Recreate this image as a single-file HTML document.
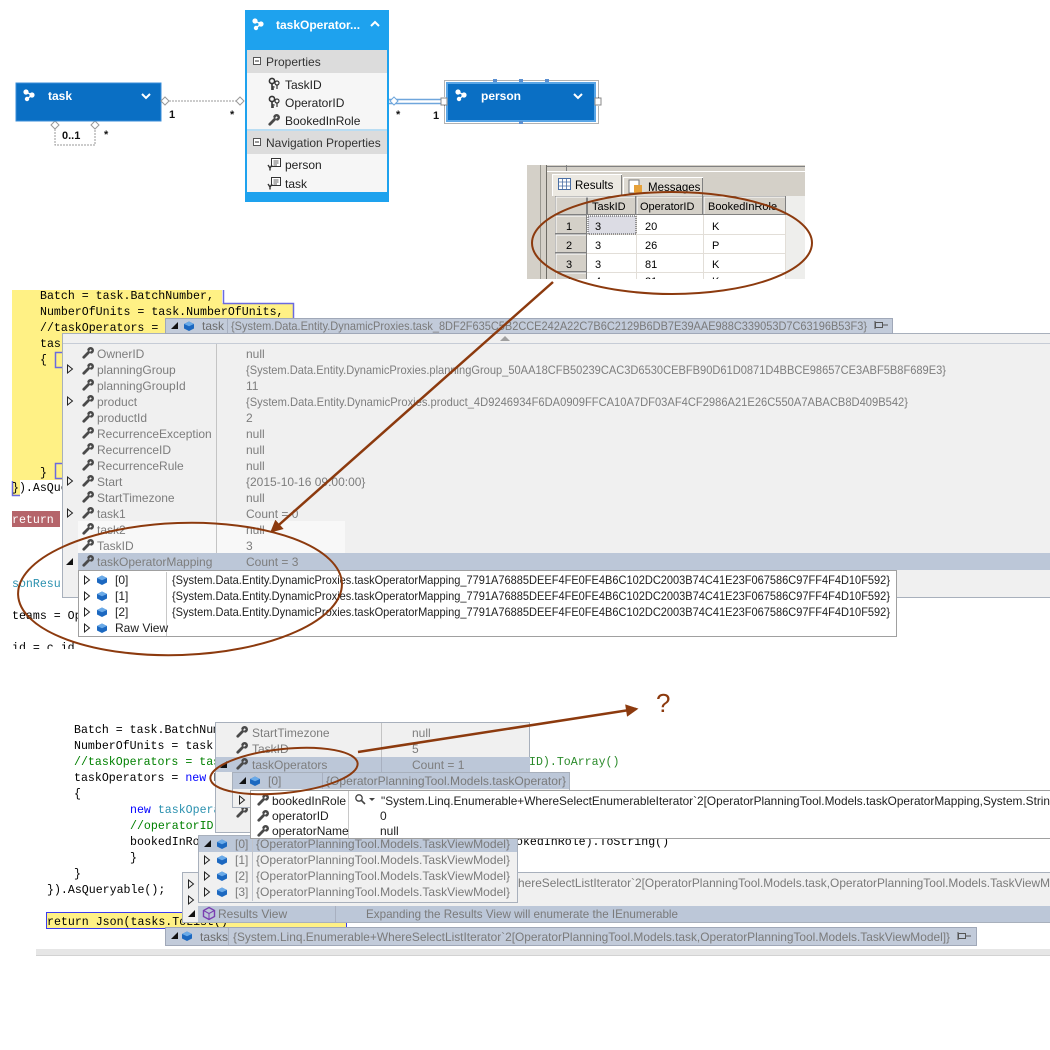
<!DOCTYPE html>
<html><head><meta charset="utf-8"><style>
html,body{margin:0;padding:0;background:#fff;}
svg{display:block;}
.mono{font-family:"Liberation Mono",monospace;font-size:11.6px;}
.ui{font-family:"Liberation Sans",sans-serif;font-size:12px;}
</style></head><body>
<svg width="1050" height="1050" viewBox="0 0 1050 1050" xmlns="http://www.w3.org/2000/svg" font-family="Liberation Sans, sans-serif">
<defs>
<marker id="ah" viewBox="0 0 10 10" refX="8" refY="5" markerWidth="6" markerHeight="5" orient="auto" markerUnits="strokeWidth"><path d="M0,0 L10,5 L0,10Z" fill="#8c3a0e"/></marker>
<symbol id="wr" viewBox="0 0 12 12"><path d="M1.8,10.2 L6.6,5.4" stroke="#4a4a4a" stroke-width="2.8" stroke-linecap="round"/><path d="M5.2,3.2 A3.4,3.4 0 1 1 8.8,6.8 L7.6,5.2 L9.8,3.4 L8.6,2.2 L6.8,4.4Z" fill="#4a4a4a"/></symbol>
<symbol id="cube" viewBox="0 0 12 12"><path d="M1,4 L6,1.5 L11,4 L11,8.5 L6,11 L1,8.5Z" fill="#1c68c0"/><path d="M1,4 L6,1.5 L11,4 L6,6.2Z" fill="#6aaae8"/></symbol>
<symbol id="key" viewBox="0 0 12 14"><circle cx="4" cy="4" r="2.6" fill="none" stroke="#333" stroke-width="1.6"/><path d="M4,6.5 V13 M4,10 H6.5 M4,12 H6" stroke="#333" stroke-width="1.6"/><circle cx="9" cy="6" r="2" fill="none" stroke="#333" stroke-width="1.2"/><path d="M9,8 V12" stroke="#333" stroke-width="1.2"/></symbol>
<symbol id="nav" viewBox="0 0 14 14"><rect x="4.5" y="1.5" width="9" height="8" fill="#fff" stroke="#333"/><path d="M6.5,4 H11.5 M6.5,6 H11.5 M6.5,8 H10" stroke="#333" stroke-width="0.8"/><path d="M1,8 L3,11 L5,8 M3,11 V13.5" stroke="#333" stroke-width="1.4" fill="none"/></symbol>
<symbol id="ent" viewBox="0 0 14 14"><circle cx="4" cy="4" r="2.6" fill="#fff"/><circle cx="10" cy="7" r="2.6" fill="#fff"/><circle cx="5" cy="11" r="2.2" fill="#fff"/><path d="M4,4 L10,7 L5,11" stroke="#fff" stroke-width="1.4" fill="none"/></symbol>
<clipPath id="topclip"><rect x="0" y="0" width="1050" height="649"/></clipPath>
<clipPath id="gridclip"><rect x="527" y="165" width="278" height="114"/></clipPath>
</defs>

<rect width="1050" height="1050" fill="#fff"/>

<!-- ================= TOP DIAGRAM ================= -->
<path d="M55,129 V145 H95 V129" fill="none" stroke="#999" stroke-dasharray="2,1"/>
<path d="M55,121 L59,125 L55,129 L51,125Z" fill="#fff" stroke="#999"/>
<path d="M95,121 L99,125 L95,129 L91,125Z" fill="#fff" stroke="#999"/>
<text x="62" y="139" font-size="11" font-weight="bold" fill="#111">0..1</text>
<text x="104" y="138" font-size="11" font-weight="bold" fill="#111">*</text>

<rect x="16" y="83" width="145" height="38" fill="#0a6fc4" stroke="#3a8ed8"/>
<use href="#ent" x="22" y="88" width="14" height="14"/>
<text x="48" y="100" font-size="12" font-weight="bold" fill="#fff">task</text>
<polyline points="142,94 146,98 150,94" fill="none" stroke="#fff" stroke-width="2"/>

<line x1="169" y1="101" x2="236" y2="101" stroke="#999" stroke-dasharray="2,1"/>
<path d="M161,101 L165,97 L169,101 L165,105Z" fill="#fff" stroke="#999"/>
<path d="M236,101 L240,97 L244,101 L240,105Z" fill="#fff" stroke="#999"/>
<text x="169" y="118" font-size="11" font-weight="bold" fill="#111">1</text>
<text x="230" y="118" font-size="11" font-weight="bold" fill="#111">*</text>

<rect x="245" y="10" width="144" height="192" fill="#1ea2ee"/>
<rect x="247" y="50" width="140" height="142" fill="#f6f6f6"/>
<rect x="247" y="50" width="140" height="23" fill="#dcdcdc"/>
<rect x="247" y="131" width="140" height="23" fill="#dcdcdc"/>
<line x1="247" y1="130" x2="387" y2="130" stroke="#7cc4f0"/>
<use href="#ent" x="251" y="17" width="14" height="14"/>
<text x="276" y="29" font-size="12" font-weight="bold" fill="#fff">taskOperator...</text>
<polyline points="371,26 375,22 379,26" fill="none" stroke="#fff" stroke-width="2"/>
<rect x="253.5" y="57.5" width="7" height="7" fill="#fff" stroke="#555"/><line x1="255" y1="61" x2="259" y2="61" stroke="#333"/>
<text x="266" y="66" font-size="12" fill="#333">Properties</text>
<use href="#key" x="268" y="77" width="12" height="14"/><text x="285" y="89" font-size="12" fill="#222">TaskID</text>
<use href="#key" x="268" y="95" width="12" height="14"/><text x="285" y="107" font-size="12" fill="#222">OperatorID</text>
<use href="#wr" x="268" y="114" width="12" height="12"/><text x="285" y="125" font-size="12" fill="#222">BookedInRole</text>
<rect x="253.5" y="138.5" width="7" height="7" fill="#fff" stroke="#555"/><line x1="255" y1="142" x2="259" y2="142" stroke="#333"/>
<text x="266" y="147" font-size="12" fill="#333">Navigation Properties</text>
<use href="#nav" x="267" y="157" width="14" height="14"/><text x="285" y="169" font-size="12" fill="#222">person</text>
<use href="#nav" x="267" y="176" width="14" height="14"/><text x="285" y="188" font-size="12" fill="#222">task</text>

<line x1="389" y1="99.5" x2="443" y2="99.5" stroke="#6fa6dc" stroke-width="1.5"/>
<line x1="389" y1="103.5" x2="443" y2="103.5" stroke="#6fa6dc" stroke-width="1.5"/>
<path d="M390,101 L394,97 L398,101 L394,105Z" fill="#fff" stroke="#6fa6dc"/>
<text x="396" y="118" font-size="11" font-weight="bold" fill="#111">*</text>
<text x="433" y="119" font-size="11" font-weight="bold" fill="#111">1</text>

<rect x="444.5" y="80.5" width="154" height="43" fill="none" stroke="#666" stroke-dasharray="1,1"/>
<rect x="447" y="83" width="148" height="38" fill="#0a6fc4" stroke="#5aa6e6" stroke-width="2"/>
<use href="#ent" x="454" y="88" width="14" height="14"/>
<text x="481" y="100" font-size="12" font-weight="bold" fill="#fff">person</text>
<polyline points="574,94 578,98 582,94" fill="none" stroke="#fff" stroke-width="2"/>
<rect x="441" y="98" width="6" height="7" fill="#fff" stroke="#888"/>
<rect x="595" y="98" width="6" height="7" fill="#fff" stroke="#888"/>
<rect x="493" y="79" width="4" height="3" fill="#5a8fd0"/><rect x="519" y="79" width="4" height="3" fill="#5a8fd0"/><rect x="545" y="79" width="4" height="3" fill="#5a8fd0"/><rect x="519" y="121" width="4" height="3" fill="#5a8fd0"/>

<!-- ================= RESULTS GRID ================= -->
<g clip-path="url(#gridclip)">
<rect x="527" y="165" width="278" height="114" fill="#d4d0c8"/>
<line x1="540.5" y1="165" x2="540.5" y2="279" stroke="#9a9890"/>
<line x1="546.5" y1="165" x2="546.5" y2="279" stroke="#6e6c66"/>
<line x1="547" y1="166.5" x2="805" y2="166.5" stroke="#808080"/>
<line x1="566.5" y1="165" x2="566.5" y2="171" stroke="#808080"/>
<line x1="547" y1="171.5" x2="805" y2="171.5" stroke="#ffffff"/>
<path d="M552.5,196 V174.5 H621.5 V196" fill="#ece9e2" stroke="#fff"/>
<line x1="621.5" y1="175" x2="621.5" y2="196" stroke="#808080"/>
<path d="M623.5,196 V177.5 H702.5 V196" fill="#dedad2" stroke="#fff"/>
<line x1="702.5" y1="178" x2="702.5" y2="196" stroke="#808080"/>
<rect x="558.5" y="178.5" width="12" height="11" fill="#fff" stroke="#4a6fa5"/><path d="M558.5,182 H570.5 M558.5,186 H570.5 M562.5,178.5 V189.5 M566.5,178.5 V189.5" stroke="#4a6fa5" stroke-width="0.8" fill="none"/>
<text x="575" y="189" font-size="11.5" fill="#000">Results</text>
<rect x="629" y="180" width="10" height="13" fill="#fff" stroke="#777"/><rect x="634" y="185" width="8" height="8" fill="#e6a13a"/>
<text x="648" y="191" font-size="11.5" fill="#000">Messages</text>
<rect x="555" y="196" width="250" height="83" fill="#fff"/>
<rect x="786" y="196" width="19" height="83" fill="#eeeeec"/>
<g stroke="#e2ded8">
<line x1="587" y1="234.5" x2="786" y2="234.5"/><line x1="587" y1="253.5" x2="786" y2="253.5"/><line x1="587" y1="272.5" x2="786" y2="272.5"/>
<line x1="636.5" y1="215" x2="636.5" y2="279"/><line x1="703.5" y1="215" x2="703.5" y2="279"/><line x1="785.5" y1="215" x2="785.5" y2="279"/>
</g>
<rect x="588" y="216" width="48" height="18" fill="#dcdce4" stroke="#444" stroke-dasharray="1,1"/>
<g fill="#d4d0c8" stroke="#808080">
<rect x="555.5" y="196.5" width="31" height="18"/>
<rect x="587.5" y="196.5" width="48" height="18"/>
<rect x="636.5" y="196.5" width="66" height="18"/>
<rect x="703.5" y="196.5" width="82" height="18"/>
<rect x="555.5" y="215.5" width="31" height="18"/>
<rect x="555.5" y="234.5" width="31" height="18"/>
<rect x="555.5" y="253.5" width="31" height="18"/>
<rect x="555.5" y="272.5" width="31" height="18"/>
</g>
<path d="M556,214 V197 H635 M637,214 V197 H702 M704,214 V197 H785 M556,233 V216 H586 M556,252 V235 H586 M556,271 V254 H586 M556,279 V273 H586" fill="none" stroke="#fff"/>
<g font-size="11" fill="#000">
<text x="592" y="210">TaskID</text><text x="640" y="210">OperatorID</text><text x="708" y="210">BookedInRole</text>
<text x="566" y="230">1</text><text x="566" y="249">2</text><text x="566" y="268">3</text>
<text x="595" y="230">3</text><text x="645" y="230">20</text><text x="712" y="230">K</text>
<text x="595" y="249">3</text><text x="645" y="249">26</text><text x="712" y="249">P</text>
<text x="595" y="268">3</text><text x="645" y="268">81</text><text x="712" y="268">K</text>
<text x="566" y="285">4</text><text x="595" y="285">4</text><text x="645" y="285">21</text><text x="712" y="285">K</text>
</g>
</g>

<!-- ================= TOP CODE ================= -->
<g clip-path="url(#topclip)">
<path d="M12,290 H222 V303 H293 V480 H12Z" fill="#fff185"/>
<path d="M223.5,290 V303.5 H293.5 V330" fill="none" stroke="#6a6ae0" stroke-width="1.5"/>
<rect x="12" y="480" width="8" height="15" fill="#fff185"/>
<path d="M12.5,481 V495.5 H20" fill="none" stroke="#6a6ae0" stroke-width="1.5"/>
<rect x="55.5" y="352.5" width="8" height="15" fill="none" stroke="#6a6ae0" stroke-width="1.5"/>
<rect x="55.5" y="463.5" width="8" height="15" fill="none" stroke="#6a6ae0" stroke-width="1.5"/>
<rect x="12" y="511" width="48" height="16" fill="#b5646a"/>
<g class="mono" fill="#000">
<text x="40" y="299">Batch = task.BatchNumber,</text>
<text x="40" y="315">NumberOfUnits = task.NumberOfUnits,</text>
<text x="40" y="331">//taskOperators = task.taskOperatorMapping</text>
<text x="40" y="347">taskOperators = new List</text>
<text x="40" y="363">{</text>
<text x="40" y="476">}</text>
<text x="12" y="491">}).AsQueryable();</text>
<text x="12" y="523" fill="#fff">return</text>
<text x="12" y="587" fill="#2b91af">sonResult</text>
<text x="12" y="619">teams = OperatorPlanning</text>
<text x="12" y="651">id = c.id</text>
</g>
</g>

<!-- ================= POPUP 1 (task) ================= -->
<rect x="62.5" y="333.5" width="990" height="264" fill="#f0f0f0" stroke="#a8b0bc"/>
<line x1="63" y1="343.5" x2="1050" y2="343.5" stroke="#c6ccd6"/>
<path d="M500,341 L505,336 L510,341Z" fill="#a0a0a0"/>
<rect x="78" y="521" width="267" height="32" fill="#f8f8f8"/>
<line x1="216.5" y1="344" x2="216.5" y2="553" stroke="#c4c4c4"/>
<rect x="78" y="553" width="972" height="17" fill="#bcc7d8"/>
<g class="ui" fill="#7d7d7d">
<use href="#wr" x="82" y="347" width="12" height="12"/><text x="97" y="358">OwnerID</text><text x="246" y="358">null</text>
<use href="#wr" x="82" y="363" width="12" height="12"/><text x="97" y="374">planningGroup</text><text x="246" y="374" textLength="700" lengthAdjust="spacingAndGlyphs">{System.Data.Entity.DynamicProxies.planningGroup_50AA18CFB50239CAC3D6530CEBFB90D61D0871D4BBCE98657CE3ABF5B8F689E3}</text>
<use href="#wr" x="82" y="379" width="12" height="12"/><text x="97" y="390">planningGroupId</text><text x="246" y="390">11</text>
<use href="#wr" x="82" y="395" width="12" height="12"/><text x="97" y="406">product</text><text x="246" y="406" textLength="662" lengthAdjust="spacingAndGlyphs">{System.Data.Entity.DynamicProxies.product_4D9246934F6DA0909FFCA10A7DF03AF4CF2986A21E26C550A7ABACB8D409B542}</text>
<use href="#wr" x="82" y="411" width="12" height="12"/><text x="97" y="422">productId</text><text x="246" y="422">2</text>
<use href="#wr" x="82" y="427" width="12" height="12"/><text x="97" y="438">RecurrenceException</text><text x="246" y="438">null</text>
<use href="#wr" x="82" y="443" width="12" height="12"/><text x="97" y="454">RecurrenceID</text><text x="246" y="454">null</text>
<use href="#wr" x="82" y="459" width="12" height="12"/><text x="97" y="470">RecurrenceRule</text><text x="246" y="470">null</text>
<use href="#wr" x="82" y="475" width="12" height="12"/><text x="97" y="486">Start</text><text x="246" y="486">{2015-10-16 09:00:00}</text>
<use href="#wr" x="82" y="491" width="12" height="12"/><text x="97" y="502">StartTimezone</text><text x="246" y="502">null</text>
<use href="#wr" x="82" y="507" width="12" height="12"/><text x="97" y="518">task1</text><text x="246" y="518">Count = 0</text>
<use href="#wr" x="82" y="523" width="12" height="12"/><text x="97" y="534">task2</text><text x="246" y="534">null</text>
<use href="#wr" x="82" y="539" width="12" height="12"/><text x="97" y="550">TaskID</text><text x="246" y="550">3</text>
<use href="#wr" x="82" y="555" width="12" height="12"/><text x="97" y="566">taskOperatorMapping</text><text x="246" y="566">Count = 3</text>
</g>
<g fill="none" stroke="#222">
<path d="M67.5,365 L72.5,369 L67.5,373Z"/><path d="M67.5,397 L72.5,401 L67.5,405Z"/><path d="M67.5,477 L72.5,481 L67.5,485Z"/><path d="M67.5,509 L72.5,513 L67.5,517Z"/>
</g>
<path d="M73,558 L73,565 L66,565Z" fill="#111"/>

<rect x="165.5" y="318.5" width="727" height="15" fill="#c2cbda" stroke="#a0a8b8"/>
<path d="M178,322 L178,329 L171,329Z" fill="#111"/>
<use href="#cube" x="183" y="320" width="12" height="12"/>
<text x="202" y="330" class="ui" fill="#6c6c6c">task</text>
<line x1="227.5" y1="319" x2="227.5" y2="333" stroke="#a8b0c0"/>
<text x="231" y="330" class="ui" fill="#7a7a7a" textLength="636" lengthAdjust="spacingAndGlyphs">{System.Data.Entity.DynamicProxies.task_8DF2F635C5B2CCE242A22C7B6C2129B6DB7E39AAE988C339053D7C63196B53F3}</text>
<rect x="875.5" y="322.5" width="7" height="5" fill="none" stroke="#555"/><path d="M882,325 H888 M875,321 V329" stroke="#555" fill="none"/>

<rect x="78.5" y="570.5" width="818" height="66" fill="#fff" stroke="#a0a0a0"/>
<line x1="166.5" y1="572" x2="166.5" y2="636" stroke="#c8c8c8"/>
<g class="ui" fill="#1e1e1e">
<path d="M84.5,576 L89.5,580 L84.5,584Z" fill="none" stroke="#222"/><use href="#cube" x="96" y="574" width="12" height="12"/><text x="115" y="584">[0]</text><text x="172" y="584" textLength="718" lengthAdjust="spacingAndGlyphs">{System.Data.Entity.DynamicProxies.taskOperatorMapping_7791A76885DEEF4FE0FE4B6C102DC2003B74C41E23F067586C97FF4F4D10F592}</text>
<path d="M84.5,592 L89.5,596 L84.5,600Z" fill="none" stroke="#222"/><use href="#cube" x="96" y="590" width="12" height="12"/><text x="115" y="600">[1]</text><text x="172" y="600" textLength="718" lengthAdjust="spacingAndGlyphs">{System.Data.Entity.DynamicProxies.taskOperatorMapping_7791A76885DEEF4FE0FE4B6C102DC2003B74C41E23F067586C97FF4F4D10F592}</text>
<path d="M84.5,608 L89.5,612 L84.5,616Z" fill="none" stroke="#222"/><use href="#cube" x="96" y="606" width="12" height="12"/><text x="115" y="616">[2]</text><text x="172" y="616" textLength="718" lengthAdjust="spacingAndGlyphs">{System.Data.Entity.DynamicProxies.taskOperatorMapping_7791A76885DEEF4FE0FE4B6C102DC2003B74C41E23F067586C97FF4F4D10F592}</text>
<path d="M84.5,624 L89.5,628 L84.5,632Z" fill="none" stroke="#222"/><use href="#cube" x="96" y="622" width="12" height="12"/><text x="115" y="632">Raw View</text>
</g>

<!-- ================= LOWER CODE ================= -->
<rect x="46.5" y="912.5" width="300" height="16" fill="#fff185" stroke="#3a3af0"/>
<g class="mono" fill="#000">
<text x="74" y="733">Batch = task.BatchNumber,</text>
<text x="74" y="749">NumberOfUnits = task.NumberOfUnits,</text>
<text x="74" y="765" fill="#008000">//taskOperators = task.taskOperatorMapping</text>
<text x="529" y="765" fill="#2a8a2a">ID).ToArray()</text>
<text x="74" y="781">taskOperators = <tspan fill="#0000ff">new</tspan> List</text>
<text x="74" y="797">{</text>
<text x="130" y="813"><tspan fill="#0000ff">new</tspan> <tspan fill="#2b91af">taskOperator</tspan></text>
<text x="130" y="829" fill="#008000">//operatorID = o.OperatorID</text>
<text x="130" y="845">bookedInRole = </text>
<text x="516" y="845">okedInRole).ToString()</text>
<text x="130" y="861">}</text>
<text x="74" y="877">}</text>
<text x="47" y="893">}).AsQueryable();</text>
<text x="47" y="925">return Json(tasks.ToList()</text>
</g>
<rect x="36" y="949" width="1014" height="6" fill="#e6e6e6"/>
<line x1="36" y1="955.5" x2="1050" y2="955.5" stroke="#d2d2d2"/>

<!-- Popup A -->
<rect x="215.5" y="722.5" width="314" height="110" fill="#f0f0f0" stroke="#a8b0bc"/>
<line x1="381.5" y1="723" x2="381.5" y2="757" stroke="#c4c4c4"/>
<rect x="216" y="757" width="314" height="15" fill="#bcc7d8"/>
<line x1="381.5" y1="757" x2="381.5" y2="772" stroke="#a8b0c0"/>
<g class="ui" fill="#7d7d7d">
<use href="#wr" x="236" y="726" width="12" height="12"/><text x="252" y="737">StartTimezone</text><text x="412" y="737">null</text>
<use href="#wr" x="236" y="742" width="12" height="12"/><text x="252" y="753">TaskID</text><text x="412" y="753">5</text>
<use href="#wr" x="236" y="758" width="12" height="12"/><text x="252" y="769">taskOperators</text><text x="412" y="769">Count = 1</text>
<use href="#wr" x="236" y="806" width="12" height="12"/>
</g>
<path d="M227,761 L227,768 L220,768Z" fill="#111"/>

<!-- Popup B -->
<rect x="232.5" y="772.5" width="337" height="35" fill="#f0f0f0" stroke="#a8b0bc"/>
<rect x="233" y="773" width="336" height="16" fill="#bcc7d8"/>
<line x1="322.5" y1="773" x2="322.5" y2="789" stroke="#a8b0c0"/>
<path d="M246,777 L246,784 L239,784Z" fill="#111"/>
<use href="#cube" x="249" y="775" width="12" height="12"/>
<text x="268" y="785" class="ui" fill="#7a7a7a">[0]</text>
<text x="326" y="785" class="ui" fill="#7a7a7a" textLength="240" lengthAdjust="spacingAndGlyphs">{OperatorPlanningTool.Models.taskOperator}</text>
<path d="M239.5,796 L244.5,800 L239.5,804Z" fill="none" stroke="#222"/>

<!-- Popup E -->
<rect x="182.5" y="872.5" width="870" height="50" fill="#f0f0f0" stroke="#a8b0bc"/>
<rect x="198" y="906" width="852" height="16" fill="#bcc7d8"/>
<line x1="335.5" y1="906" x2="335.5" y2="922" stroke="#a8b0c0"/>
<path d="M188.5,880 L193.5,884 L188.5,888Z" fill="none" stroke="#222"/>
<path d="M188.5,896 L193.5,900 L188.5,904Z" fill="none" stroke="#222"/>
<path d="M195,910 L195,917 L188,917Z" fill="#111"/>
<path d="M209,907.5 L214.5,910.5 L214.5,916.5 L209,919.5 L203.5,916.5 L203.5,910.5Z" fill="none" stroke="#7a3fb0" stroke-width="1.4"/><path d="M203.5,910.5 L209,913.5 L214.5,910.5 M209,913.5 V919.5" fill="none" stroke="#7a3fb0" stroke-width="1"/>
<g class="ui" fill="#7a7a7a">
<text x="518" y="887" textLength="532" lengthAdjust="spacingAndGlyphs">hereSelectListIterator`2[OperatorPlanningTool.Models.task,OperatorPlanningTool.Models.TaskViewM</text>
<text x="218" y="918">Results View</text>
<text x="366" y="918" textLength="312" lengthAdjust="spacingAndGlyphs">Expanding the Results View will enumerate the IEnumerable</text>
</g>

<!-- Popup D -->
<rect x="198.5" y="835.5" width="319" height="67" fill="#f0f0f0" stroke="#a8b0bc"/>
<rect x="199" y="836" width="318" height="16" fill="#bcc7d8"/>
<line x1="252.5" y1="836" x2="252.5" y2="901" stroke="#c0c4cc"/>
<path d="M211,840 L211,847 L204,847Z" fill="#111"/>
<path d="M204.5,856 L209.5,860 L204.5,864Z" fill="none" stroke="#222"/>
<path d="M204.5,872 L209.5,876 L204.5,880Z" fill="none" stroke="#222"/>
<path d="M204.5,888 L209.5,892 L204.5,896Z" fill="none" stroke="#222"/>
<use href="#cube" x="216" y="838" width="12" height="12"/>
<use href="#cube" x="216" y="854" width="12" height="12"/>
<use href="#cube" x="216" y="870" width="12" height="12"/>
<use href="#cube" x="216" y="886" width="12" height="12"/>
<g class="ui" fill="#7a7a7a">
<text x="235" y="848">[0]</text><text x="256" y="848" textLength="254" lengthAdjust="spacingAndGlyphs">{OperatorPlanningTool.Models.TaskViewModel}</text>
<text x="235" y="864">[1]</text><text x="256" y="864" textLength="254" lengthAdjust="spacingAndGlyphs">{OperatorPlanningTool.Models.TaskViewModel}</text>
<text x="235" y="880">[2]</text><text x="256" y="880" textLength="254" lengthAdjust="spacingAndGlyphs">{OperatorPlanningTool.Models.TaskViewModel}</text>
<text x="235" y="896">[3]</text><text x="256" y="896" textLength="254" lengthAdjust="spacingAndGlyphs">{OperatorPlanningTool.Models.TaskViewModel}</text>
</g>

<!-- Popup C (on top of D) -->
<rect x="250.5" y="790.5" width="801" height="48" fill="#fff" stroke="#a0a0a0"/>
<line x1="348.5" y1="791" x2="348.5" y2="838" stroke="#c8c8c8"/>
<g class="ui" fill="#1e1e1e">
<use href="#wr" x="257" y="794" width="12" height="12"/><text x="272" y="805">bookedInRole</text>
<circle cx="359" cy="798" r="3.2" fill="none" stroke="#444" stroke-width="1.3"/><line x1="361.5" y1="800.5" x2="365" y2="804" stroke="#444" stroke-width="1.6"/>
<path d="M369,798 L375,798 L372,801Z" fill="#444"/>
<text x="381" y="805" textLength="669" lengthAdjust="spacingAndGlyphs">"System.Linq.Enumerable+WhereSelectEnumerableIterator`2[OperatorPlanningTool.Models.taskOperatorMapping,System.Strin</text>
<use href="#wr" x="257" y="810" width="12" height="12"/><text x="272" y="820">operatorID</text><text x="380" y="820">0</text>
<use href="#wr" x="257" y="825" width="12" height="12"/><text x="272" y="835">operatorName</text><text x="380" y="835">null</text>
</g>

<!-- Popup F -->
<rect x="165.5" y="927.5" width="811" height="18" fill="#c2cbda" stroke="#a0a8b8"/>
<path d="M178,932 L178,939 L171,939Z" fill="#111"/>
<use href="#cube" x="181" y="930" width="12" height="12"/>
<text x="200" y="941" class="ui" fill="#6c6c6c">tasks</text>
<line x1="228.5" y1="928" x2="228.5" y2="945" stroke="#a8b0c0"/>
<text x="233" y="941" class="ui" fill="#7a7a7a" textLength="717" lengthAdjust="spacingAndGlyphs">{System.Linq.Enumerable+WhereSelectListIterator`2[OperatorPlanningTool.Models.task,OperatorPlanningTool.Models.TaskViewModel]}</text>
<rect x="958.5" y="933.5" width="7" height="5" fill="none" stroke="#555"/><path d="M965,936 H971 M958,932 V940" stroke="#555" fill="none"/>

<!-- ================= ANNOTATIONS ================= -->
<g fill="none" stroke="#8c3a0e" stroke-width="2">
<ellipse cx="672" cy="243" rx="140" ry="51"/>
<ellipse cx="180" cy="589" rx="162" ry="66" transform="rotate(-2 180 589)"/>
<ellipse cx="284" cy="771" rx="74" ry="22" transform="rotate(-6 284 771)"/>
</g>
<line x1="553" y1="282" x2="272" y2="531" stroke="#8c3a0e" stroke-width="2.5" marker-end="url(#ah)"/>
<line x1="358" y1="752" x2="636" y2="709" stroke="#8c3a0e" stroke-width="2.5" marker-end="url(#ah)"/>
<text x="656" y="712" font-size="26" fill="#8c3a0e">?</text>
</svg>
</body></html>
